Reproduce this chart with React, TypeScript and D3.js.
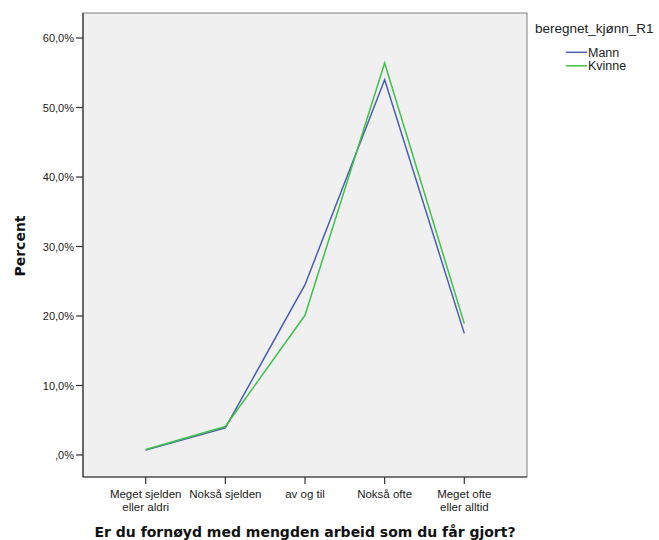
import React from "react";
import * as d3 from "d3";

const categories = ["Meget sjelden|eller aldri", "Nokså sjelden", "av og til", "Nokså ofte", "Meget ofte|eller alltid"];
const mann = [0.7, 3.9, 24.5, 54.0, 17.5];
const kvinne = [0.8, 4.1, 20.1, 56.4, 18.9];
const yTicks = [0, 10, 20, 30, 40, 50, 60];
const seriesNames = ["Mann", "Kvinne"];
const seriesColors = ["#4a5fb0", "#3ec24a"];

const W = 659, H = 540;
const plot = { left: 83, right: 527, top: 13, bottom: 477 };

export default function App() {
  const x = d3.scalePoint<string>().domain(categories).range([145.7, 464.3]);
  const y = d3.scaleLinear().domain([0, 60]).range([455, 38]);
  const line = d3.line<number>().x((_, i) => x(categories[i]) as number).y((d) => y(d));
  const fmt = (v: number) => (v === 0 ? ",0%" : v.toFixed(1).replace(".", ",") + "%");
  const font = "'Liberation Sans', Arial, sans-serif";
  const boldFont = "'DejaVu Sans', Verdana, sans-serif";
  const series = [mann, kvinne];
  return (
    <svg width={W} height={H} style={{ position: "absolute", left: 0, top: 0, fontFamily: font }}>
      <rect x={0} y={0} width={W} height={H} fill="#fff" />
      <rect x={plot.left} y={plot.top} width={plot.right - plot.left} height={plot.bottom - plot.top} fill="#f0f0f0" stroke="#808080" strokeWidth={1} />
      <line x1={plot.left} x2={plot.left} y1={plot.top} y2={plot.bottom} stroke="#333" strokeWidth={1.2} />
      <line x1={plot.left} x2={plot.right} y1={plot.bottom} y2={plot.bottom} stroke="#333" strokeWidth={1.2} />
      {yTicks.map((t) => (
        <g key={t}>
          <line x1={plot.left - 7} x2={plot.left} y1={y(t)} y2={y(t)} stroke="#333" strokeWidth={1.2} />
          <text x={plot.left - 9} y={y(t) + 4} textAnchor="end" fontSize={11} fill="#222">{fmt(t)}</text>
        </g>
      ))}
      {categories.map((c) => {
        const lines = c.split("|");
        const cx = x(c) as number;
        return (
          <g key={c}>
            <line x1={cx} x2={cx} y1={plot.bottom} y2={plot.bottom + 7} stroke="#333" strokeWidth={1.2} />
            {lines.map((l, i) => (
              <text key={i} x={cx} y={497.5 + i * 13} textAnchor="middle" fontSize={11.5} fill="#222">{l}</text>
            ))}
          </g>
        );
      })}
      {series.map((s, i) => (
        <path key={i} d={line(s) as string} fill="none" stroke={seriesColors[i]} strokeWidth={1.5} />
      ))}
      <text transform="translate(25,246) rotate(-90)" textAnchor="middle" fontSize={14} fontWeight="bold" fill="#111" fontFamily={boldFont}>Percent</text>
      <text x={305} y={537} textAnchor="middle" fontSize={14} fontWeight="bold" fill="#111" fontFamily={boldFont}>Er du fornøyd med mengden arbeid som du får gjort?</text>
      <text x={535} y={33} fontSize={13.5} fill="#222">beregnet_kjønn_R1</text>
      {seriesNames.map((n, i) => (
        <g key={n}>
          <line x1={566} x2={587} y1={52.3 + i * 13.5} y2={52.3 + i * 13.5} stroke={seriesColors[i]} strokeWidth={1.5} />
          <text x={588} y={56.5 + i * 13.5} fontSize={12.5} fill="#222">{n}</text>
        </g>
      ))}
    </svg>
  );
}
